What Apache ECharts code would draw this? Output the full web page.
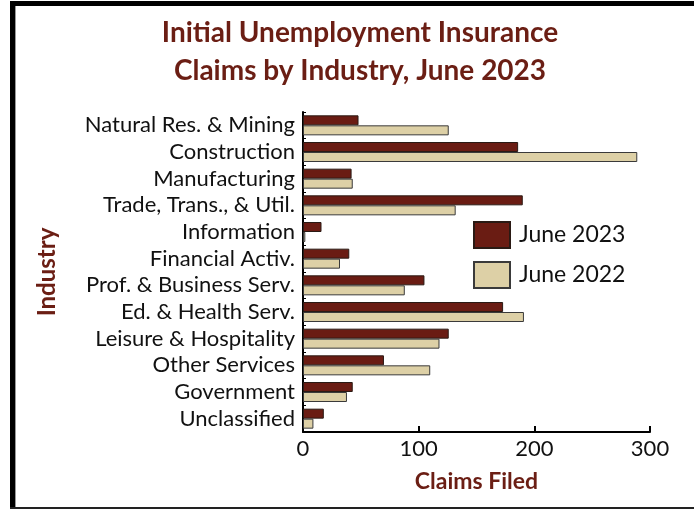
<!DOCTYPE html>
<html><head><meta charset="utf-8">
<script src="https://cdn.jsdelivr.net/npm/echarts@6/dist/echarts.min.js"></script>
<style>html,body{margin:0;padding:0;background:#fff}#c{width:694px;height:510px}</style>
</head><body><div id="c"></div>
<script>
var categories = ["Natural Res. & Mining","Construction","Manufacturing","Trade, Trans., & Util.","Information","Financial Activ.","Prof. & Business Serv.","Ed. & Health Serv.","Leisure & Hospitality","Other Services","Government","Unclassified"];
var june2023 = [48,186,42,190,16,40,105,173,126,70,43,18];
var june2022 = [126,289,43,132,2,32,88,191,118,110,38,9];
var xTicks = [0,100,200,300];
var FONT = 'Lato';
var chart = echarts.init(document.getElementById('c'));
chart.setOption({
  animation:false,
  backgroundColor:'#fff',
  title:{text:'Initial Unemployment Insurance\nClaims by Industry, June 2023',left:355,textAlign:'center',top:9,
    textStyle:{color:'#6B1E14',fontFamily:FONT,fontWeight:'bold',fontSize:28,lineHeight:38}},
  legend:{orient:'vertical',left:473,top:221,padding:0,itemWidth:36,itemHeight:26,itemGap:12,icon:'rect',
    textStyle:{fontFamily:FONT,fontSize:23,color:'#111',padding:[0,0,0,4]},data:['June 2023','June 2022']},
  grid:{left:303,right:44,top:112,bottom:78,containLabel:false},
  xAxis:{type:'value',min:0,max:300,interval:100,
    name:'Claims Filed',nameLocation:'middle',nameGap:38,
    nameTextStyle:{color:'#6B1E14',fontFamily:FONT,fontWeight:'bold',fontSize:23},
    axisLine:{show:true,lineStyle:{color:'#000',width:2}},
    axisTick:{show:true,inside:true,length:6,lineStyle:{color:'#000',width:2}},
    axisLabel:{fontFamily:FONT,fontSize:22,color:'#111',margin:6,formatter:function(v){return xTicks.indexOf(v)>=0?String(v):'';}},
    splitLine:{show:false}},
  yAxis:{type:'category',data:categories,inverse:true,
    name:'Industry',nameLocation:'middle',nameGap:244,nameRotate:90,
    nameTextStyle:{color:'#6B1E14',fontFamily:FONT,fontWeight:'bold',fontSize:24},
    axisLine:{show:true,lineStyle:{color:'#000',width:2}},
    axisTick:{show:true,inside:true,length:3,lineStyle:{color:'#000'}},
    axisLabel:{interval:0,fontFamily:FONT,fontSize:22,color:'#111',margin:8,hideOverlap:false}},
  series:[
    {name:'June 2023',type:'bar',data:june2023,barWidth:10,barGap:'0%',
      itemStyle:{color:'#6A1C13',borderColor:'#2a1a14',borderWidth:1}},
    {name:'June 2022',type:'bar',data:june2022,barWidth:10,barGap:'0%',
      itemStyle:{color:'#DDD0A6',borderColor:'#3a3a3a',borderWidth:1}}
  ],
  graphic:[
    {type:'rect',shape:{x:10,y:1,width:5,height:508},style:{fill:'#000'}},
    {type:'rect',shape:{x:10,y:1,width:684,height:5},style:{fill:'#000'}},
    {type:'rect',shape:{x:15,y:6,width:1,height:502},style:{fill:'#999'}},
    {type:'rect',shape:{x:10,y:507,width:684,height:2},style:{fill:'#222'}}
  ]
});
</script></body></html>
